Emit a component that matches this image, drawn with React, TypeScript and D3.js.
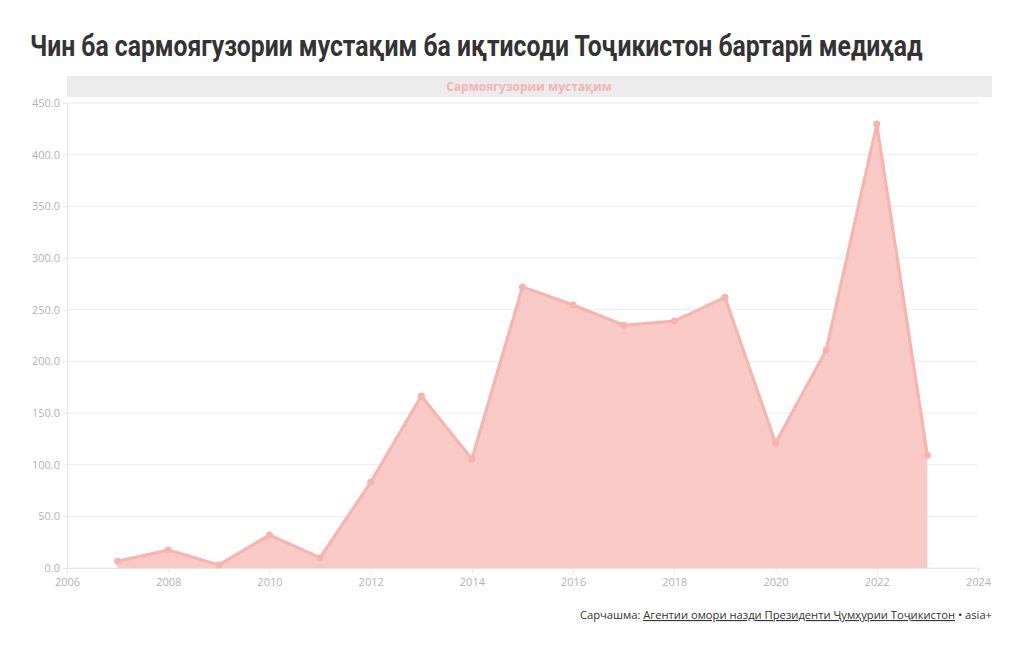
import { useEffect, useRef } from "react";
import * as d3 from "d3";

const years = [2007, 2008, 2009, 2010, 2011, 2012, 2013, 2014, 2015, 2016, 2017, 2018, 2019, 2020, 2021, 2022, 2023];
const fdi = [6.5, 17.4, 3, 32, 10, 83, 166.5, 105.5, 272, 254.5, 235, 239, 262, 121, 211, 429.7, 109];
const xTicks = [2006, 2008, 2010, 2012, 2014, 2016, 2018, 2020, 2022, 2024];
const yTicks = [0, 50, 100, 150, 200, 250, 300, 350, 400, 450];

const TITLE = "Чин ба сармоягузории мустақим ба иқтисоди Тоҷикистон бартарӣ медиҳад";
const SERIES = "Сармоягузории мустақим";

const LINE = "#f8b4ac";
const FILL = "#f9c6c2";
const FONT = "'Open Sans', sans-serif";

export default function App() {
  const svgRef = useRef<SVGSVGElement>(null);

  useEffect(() => {
    if (!svgRef.current) return;
    const W = 1020, H = 650;
    const left = 67, right = 978, top = 103, bottom = 568;

    d3.select(svgRef.current).selectAll("*").remove();
    const svg = d3.select(svgRef.current);

    svg.append("rect").attr("width", W).attr("height", H).attr("fill", "#fff");

    // title, squeezed horizontally to look condensed
    const title = svg.append("text")
      .attr("x", 0).attr("y", 0)
      .attr("font-family", "Roboto, sans-serif")
      .attr("font-weight", "700")
      .attr("font-size", "29px")
      .attr("fill", "#333")
      .text(TITLE);
    const natural = (title.node() as SVGTextElement).getComputedTextLength() || 893;
    title.attr("transform", `translate(30,56) scale(${893 / natural},1)`);

    // legend band
    svg.append("rect")
      .attr("x", left).attr("y", 76).attr("width", 992 - left).attr("height", 21)
      .attr("fill", "#ececec");
    svg.append("text")
      .attr("x", 529).attr("y", 91)
      .attr("text-anchor", "middle")
      .attr("font-family", FONT).attr("font-weight", "700").attr("font-size", "12px")
      .attr("fill", LINE)
      .text(SERIES);

    const x = d3.scaleLinear().domain([2006, 2024]).range([left, right]);
    const y = d3.scaleLinear().domain([0, 450]).range([bottom, top]);

    // grid
    svg.append("g")
      .selectAll("line")
      .data(yTicks)
      .join("line")
      .attr("x1", left).attr("x2", right)
      .attr("y1", (d) => y(d)).attr("y2", (d) => y(d))
      .attr("stroke", "#ececec");

    // y axis
    svg.append("g")
      .attr("transform", `translate(${left},0)`)
      .call(d3.axisLeft(y).tickValues(yTicks).tickSize(4).tickFormat((d) => d3.format(".1f")(d as number)))
      .call((g) => g.select(".domain").attr("stroke", "#e6e6e6"))
      .call((g) => g.selectAll(".tick line").attr("stroke", "#e6e6e6"))
      .call((g) => g.selectAll(".tick text").attr("fill", "#b3b3b3").attr("font-size", "11px").attr("font-family", FONT).attr("x", -7));

    // x axis
    svg.append("g")
      .attr("transform", `translate(0,${bottom})`)
      .call(d3.axisBottom(x).tickValues(xTicks).tickSize(5).tickFormat((d) => String(d)))
      .call((g) => g.select(".domain").attr("stroke", "#e6e6e6"))
      .call((g) => g.selectAll(".tick line").attr("stroke", "#e6e6e6"))
      .call((g) => g.selectAll(".tick text").attr("fill", "#b3b3b3").attr("font-size", "11px").attr("font-family", FONT).attr("y", 10));

    const pts = years.map((yr, i) => [yr, fdi[i]] as [number, number]);

    const area = d3.area<[number, number]>()
      .x((d) => x(d[0])).y0(y(0)).y1((d) => y(d[1]));
    svg.append("path").datum(pts).attr("d", area).attr("fill", FILL).attr("opacity", 0.95);

    const line = d3.line<[number, number]>().x((d) => x(d[0])).y((d) => y(d[1]));
    svg.append("path").datum(pts).attr("d", line)
      .attr("fill", "none").attr("stroke", LINE).attr("stroke-width", 3)
      .attr("stroke-linejoin", "round");

    svg.append("g").selectAll("circle").data(pts).join("circle")
      .attr("cx", (d) => x(d[0])).attr("cy", (d) => y(d[1])).attr("r", 3.5)
      .attr("fill", LINE);

    // footer
    const foot = svg.append("text")
      .attr("x", 992).attr("y", 619)
      .attr("text-anchor", "end")
      .attr("font-family", FONT).attr("font-size", "11.2px").attr("fill", "#333");
    foot.append("tspan").text("Сарчашма: ");
    foot.append("tspan").attr("text-decoration", "underline").text("Агентии омори назди Президенти Ҷумҳурии Тоҷикистон");
    foot.append("tspan").text(" • asia+");
  }, []);

  return (
    <svg ref={svgRef} width={1020} height={650}
      style={{ position: "absolute", left: 0, top: 0, display: "block" }} />
  );
}
